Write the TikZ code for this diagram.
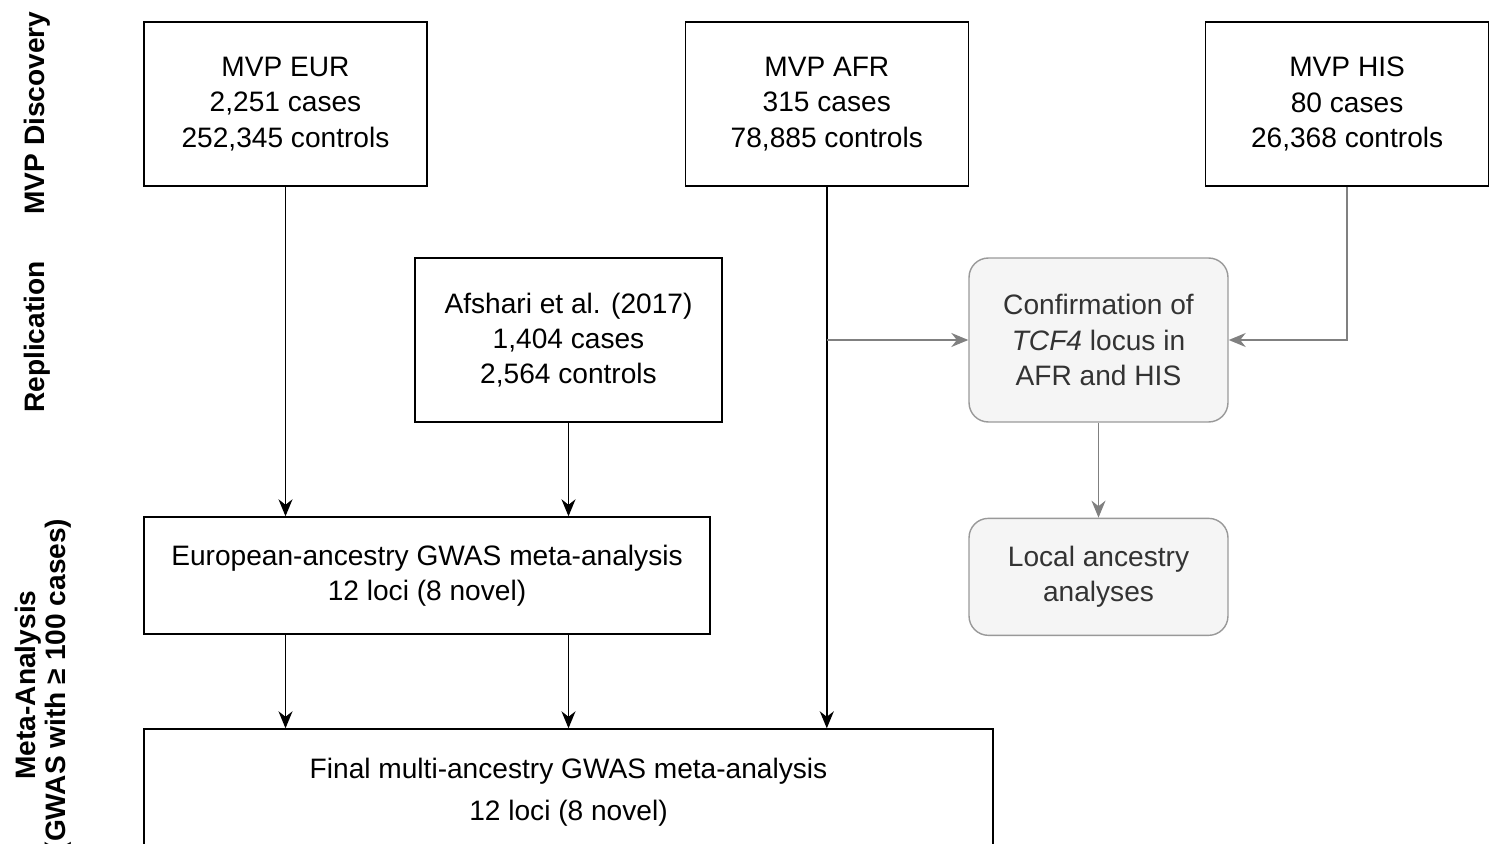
\documentclass[tikz,border=0pt]{standalone}
\usepackage{fontspec}
\setmainfont{Liberation Sans}
\usetikzlibrary{positioning, arrows.meta}

\begin{document}
\begin{tikzpicture}[
    x=0.02cm, y=-0.02cm,
    box/.style={rectangle, draw=black, line width=0.8pt, fill=white, align=center, font=\fontsize{16}{20}\selectfont, inner sep=2pt},
    greybox/.style={rectangle, draw=black!40, fill=black!4, line width=0.8pt, rounded corners=11pt, align=center, text=black!80, font=\fontsize{16}{20}\selectfont, minimum width=5.18cm},
    rowlabel/.style={rotate=90, align=center, font=\fontsize{16}{17}\selectfont\bfseries},
    arrow/.style={-{Stealth[length=0.34cm, width=0.28cm, inset=0.11cm]}, line width=0.9pt, black},
    greyarrow/.style={arrow, black!50},
]
\useasboundingbox (0,0) rectangle (1497,844);
\clip (0,0) rectangle (1497,844);

% === ROW LABELS ===
\node[rowlabel] (lbldisc) at (37,113) {MVP Discovery};
\node[rowlabel] (lblrepl) at (37,337) {Replication};
\node[rowlabel] (lblmeta) at (43,685) {Meta-Analysis\\(GWAS with ≥ 100 cases)};

% === MVP DISCOVERY ===
\node[box, minimum width=5.66cm, minimum height=3.28cm] (eur) at (285.5,104) {MVP EUR\\2,251 cases\\252,345 controls};
\node[box, minimum width=5.66cm, minimum height=3.28cm, right=5.14cm of eur] (afr) {MVP AFR\\315 cases\\78,885 controls};
\node[box, minimum width=5.66cm, minimum height=3.28cm, right=4.72cm of afr] (his) {MVP HIS\\80 cases\\26,368 controls};

% === REPLICATION ===
\node[box, minimum width=6.14cm, minimum height=3.28cm] (afshari) at (568.5,340) {Afshari et al. (2017)\\1,404 cases\\2,564 controls};
\node[greybox, minimum height=3.28cm] (conf) at (1098.5,340) {Confirmation of\\\textit{TCF4} locus in\\AFR and HIS};
\node[greybox, minimum height=2.34cm, below=1.9cm of conf] (local) {Local ancestry\\analyses};

% === META-ANALYSIS ===
\node[box, minimum width=11.32cm, minimum height=2.34cm] (eumeta) at (427,575.5) {European-ancestry GWAS meta-analysis\\12 loci (8 novel)};
\node[box, minimum width=16.98cm, minimum height=2.52cm, font=\fontsize{16}{24}\selectfont] (final) at (568.5,792) {Final multi-ancestry GWAS meta-analysis\\12 loci (8 novel)};

% === ARROWS ===
\draw[arrow] (eur) -- (eur |- eumeta.north);
\draw[arrow] (afshari) -- (afshari |- eumeta.north);
\draw[arrow] (afr) -- (afr |- final.north);
\draw[arrow] (eur |- eumeta.south) -- (eur |- final.north);
\draw[arrow] (afshari |- eumeta.south) -- (afshari |- final.north);

% grey branch
\coordinate (split) at (afr |- conf);
\draw[greyarrow] (split) -- (conf.west);
\draw[greyarrow] (his.south) |- (conf.east);
\draw[greyarrow] (conf) -- (local);

\end{tikzpicture}
\end{document}
